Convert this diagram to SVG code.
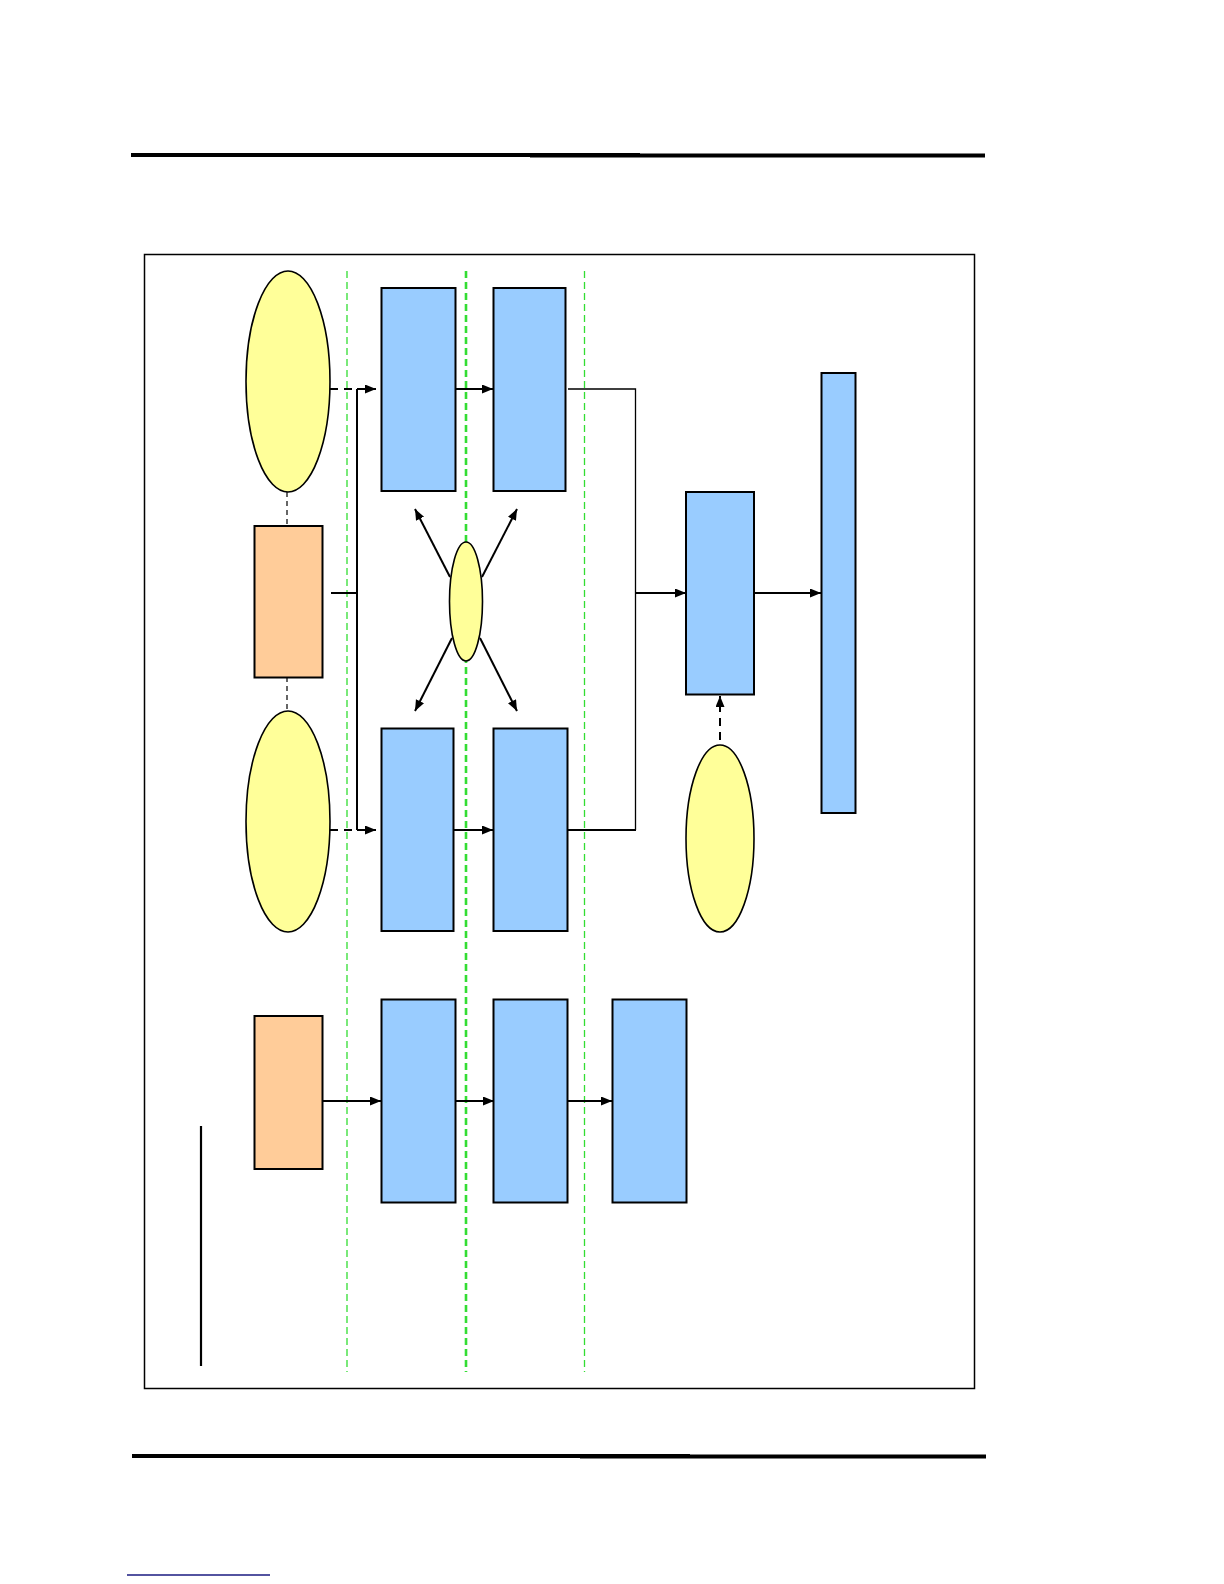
<svg xmlns="http://www.w3.org/2000/svg" width="1224" height="1584" viewBox="0 0 1224 1584">
<defs>
<style>
.blue{fill:#99ccff;stroke:#000;stroke-width:2}
.orange{fill:#ffcc99;stroke:#000;stroke-width:2}
.yel{fill:#ffff99;stroke:#000;stroke-width:1.6}
.grid{stroke:#33dd33;stroke-width:1.3;stroke-dasharray:7,4;fill:none}
.gridb{stroke:#33dd33;stroke-width:2.6;stroke-dasharray:7,4;fill:none}
.ln{stroke:#000;fill:none;stroke-width:2}
.thin{stroke:#000;fill:none;stroke-width:1.3}
.dash{stroke:#000;fill:none;stroke-width:2;stroke-dasharray:8,6}
.dthin{stroke:#000;fill:none;stroke-width:1.2;stroke-dasharray:5,4}
</style>
<marker id="ah" markerUnits="userSpaceOnUse" markerWidth="12" markerHeight="10" refX="11" refY="4.5" orient="auto">
<path d="M0,0 L11,4.5 L0,9 z" fill="#000"/>
</marker>
</defs>
<rect width="1224" height="1584" fill="#fff"/>
<g id="page">
<line x1="131" y1="155" x2="640" y2="155" stroke="#000" stroke-width="4"/>
<line x1="530" y1="155.5" x2="985" y2="155.5" stroke="#000" stroke-width="4"/>
<line x1="132" y1="1456" x2="690" y2="1456" stroke="#000" stroke-width="4"/>
<line x1="580" y1="1456.5" x2="986" y2="1456.5" stroke="#000" stroke-width="4"/>
<line x1="127" y1="1575" x2="270" y2="1575" stroke="#1a1a80" stroke-width="1.6"/>
<rect x="144.5" y="254.5" width="830" height="1134" fill="none" stroke="#000" stroke-width="1.5"/>
<line x1="201" y1="1126" x2="201" y2="1366" stroke="#000" stroke-width="2.2"/>
</g>
<g id="lanes">
<line class="grid" x1="347" y1="271" x2="347" y2="1372"/>
<line class="gridb" x1="466" y1="271" x2="466" y2="1372"/>
<line class="grid" x1="584.5" y1="271" x2="584.5" y2="1372"/>
</g>
<g id="connectors">
<line class="dthin" x1="287" y1="492" x2="287" y2="526"/>
<line class="dthin" x1="287" y1="677" x2="287" y2="711"/>
<path class="ln" d="M331,593 H357 M357,389 V830"/>
<line class="dash" x1="330" y1="389" x2="376" y2="389" marker-end="url(#ah)"/>
<line class="dash" x1="330" y1="830" x2="376" y2="830" marker-end="url(#ah)"/>
<line class="ln" x1="357" y1="389" x2="370" y2="389"/>
<line class="ln" x1="357" y1="830" x2="370" y2="830"/>
<line class="ln" x1="455" y1="389" x2="493" y2="389" marker-end="url(#ah)"/>
<line class="ln" x1="453" y1="830" x2="493" y2="830" marker-end="url(#ah)"/>
<path class="thin" d="M568,389 H635.5 V830"/>
<line class="ln" x1="568" y1="830" x2="636" y2="830"/>
<line class="ln" x1="635" y1="593" x2="686" y2="593" marker-end="url(#ah)"/>
<line class="ln" x1="754" y1="593" x2="821" y2="593" marker-end="url(#ah)"/>
<line class="dash" x1="720" y1="740" x2="720" y2="696" marker-end="url(#ah)" stroke-width="2.4"/>
<line class="ln" x1="450" y1="577" x2="415" y2="509" marker-end="url(#ah)"/>
<line class="ln" x1="482" y1="577" x2="517" y2="509" marker-end="url(#ah)"/>
<line class="ln" x1="452" y1="638" x2="415" y2="711" marker-end="url(#ah)"/>
<line class="ln" x1="480" y1="638" x2="517" y2="711" marker-end="url(#ah)"/>
<line class="ln" x1="322" y1="1101" x2="381" y2="1101" marker-end="url(#ah)"/>
<line class="ln" x1="455" y1="1101" x2="494" y2="1101" marker-end="url(#ah)"/>
<line class="ln" x1="568" y1="1101" x2="612" y2="1101" marker-end="url(#ah)"/>
</g>
<g id="ellipse-top"><ellipse class="yel" cx="288" cy="381.5" rx="42" ry="110.5"/></g>
<g id="orange-1"><rect class="orange" x="254.5" y="526" width="68" height="151.5"/></g>
<g id="ellipse-bottom"><ellipse class="yel" cx="288" cy="821.5" rx="42" ry="110.5"/></g>
<g id="box-1"><rect class="blue" x="381.5" y="288" width="74" height="203"/></g>
<g id="box-2"><rect class="blue" x="493.5" y="288" width="72" height="203"/></g>
<g id="ellipse-small"><ellipse class="yel" cx="466" cy="601.5" rx="16.5" ry="59.5"/></g>
<g id="box-3"><rect class="blue" x="381.5" y="728.5" width="72" height="202.5"/></g>
<g id="box-4"><rect class="blue" x="493.5" y="728.5" width="74" height="202.5"/></g>
<g id="box-mid"><rect class="blue" x="686" y="492" width="68" height="202.5"/></g>
<g id="box-tall"><rect class="blue" x="821.5" y="373" width="34" height="440"/></g>
<g id="ellipse-right"><ellipse class="yel" cx="720" cy="838.5" rx="34" ry="93.5"/></g>
<g id="orange-2"><rect class="orange" x="254.5" y="1016" width="68" height="153"/></g>
<g id="box-5"><rect class="blue" x="381.5" y="999.5" width="74" height="203"/></g>
<g id="box-6"><rect class="blue" x="493.5" y="999.5" width="74" height="203"/></g>
<g id="box-7"><rect class="blue" x="612.5" y="999.5" width="74" height="203"/></g>
</svg>
